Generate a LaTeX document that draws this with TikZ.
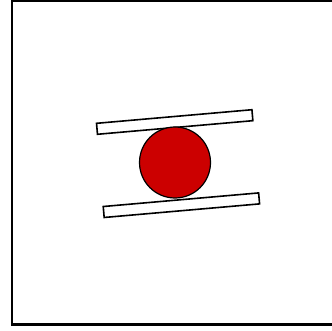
\documentclass[tikz,border=0pt]{standalone}
\begin{document}
\begin{tikzpicture}[x=1pt,y=1pt,
  plank/.style={draw=black,fill=white,line width=1.6pt,rectangle,minimum width=156pt,minimum height=11pt,inner sep=0pt,rotate=5},
  ball/.style={draw=black,fill={rgb,255:red,204;green,0;blue,0},line width=1.2pt,circle,minimum size=71pt,inner sep=0pt},
  frame/.style={draw=black,line width=2.5pt}]
\useasboundingbox (0,0) rectangle (332,330);
\draw[frame] (340,329.2) -- (12,329.2) -- (12,5.5) -- (340,5.5);
\node[plank] (top) at (174.7,208) {};
\node[plank] (bottom) at (181.4,124.8) {};
\node[ball] (ball) at (175,167.5) {};
\end{tikzpicture}
\end{document}
